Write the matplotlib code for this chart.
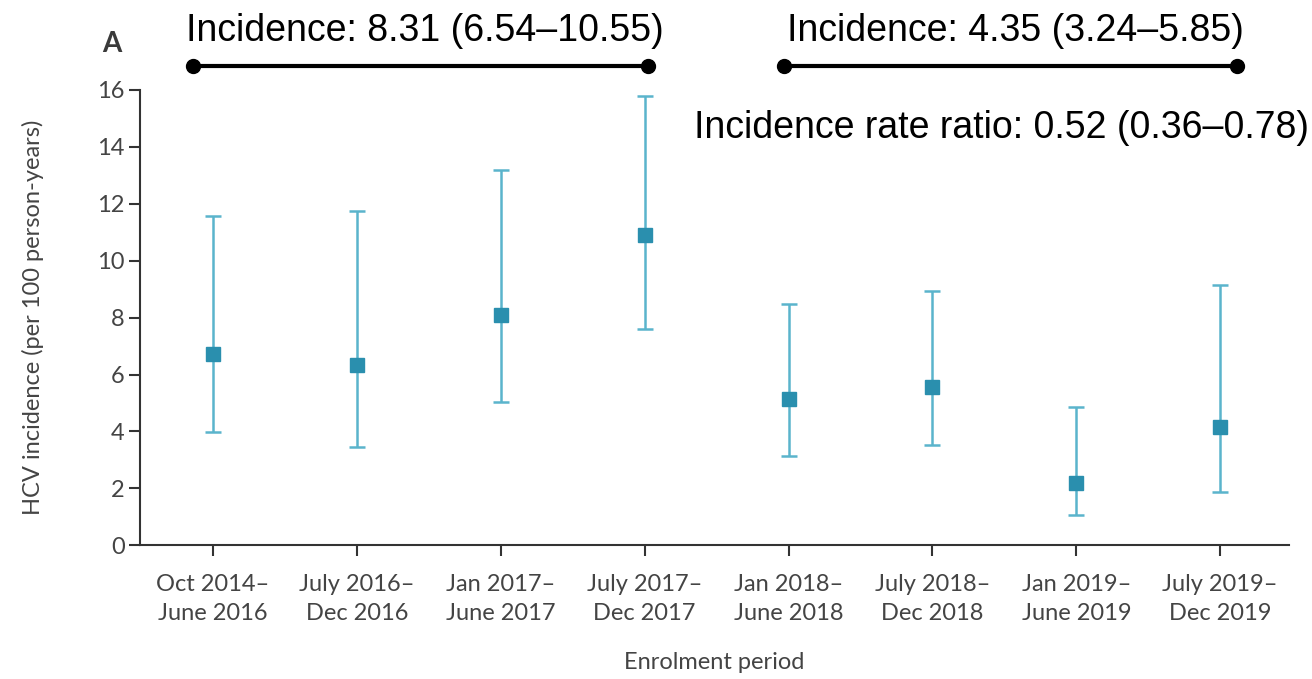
import numpy as np
import matplotlib.pyplot as plt

# Data
periods = ['Oct 2014–\nJune 2016', 'July 2016–\nDec 2016', 'Jan 2017–\nJune 2017',
           'July 2017–\nDec 2017', 'Jan 2018–\nJune 2018', 'July 2018–\nDec 2018',
           'Jan 2019–\nJune 2019', 'July 2019–\nDec 2019']
incidence = [6.72, 6.34, 8.10, 10.92, 5.13, 5.57, 2.19, 4.14]
lower_ci = [3.97, 3.46, 5.05, 7.60, 3.13, 3.52, 1.08, 1.88]
upper_ci = [11.56, 11.76, 13.20, 15.79, 8.47, 8.95, 4.87, 9.13]

bracket_text = ['Incidence: 8.31 (6.54–10.55)', 'Incidence: 4.35 (3.24–5.85)']
ratio_text = 'Incidence rate ratio: 0.52 (0.36–0.78)'

tick_font = 'Lato'
grey = '#444444'

x = np.arange(len(periods))
inc = np.array(incidence)
err = np.vstack([inc - np.array(lower_ci), np.array(upper_ci) - inc])

fig = plt.figure(figsize=(13.12, 6.79), dpi=100)
ax = fig.add_axes([0.1067, 0.197, 0.876, 0.6705])

ax.errorbar(x, inc, yerr=err, fmt='none', ecolor='#5ab4cc', elinewidth=1.8,
            capsize=6, capthick=1.8, zorder=2)
ax.plot(x, inc, 's', color='#2a8fae', markersize=10, zorder=3)

ax.set_xlim(-0.507, 7.48)
ax.set_ylim(0, 16)
ax.set_yticks(range(0, 17, 2))
ax.set_xticks(x)
ax.set_xticklabels(periods, fontsize=17, family=tick_font, color=grey, linespacing=1.45)
for lab in ax.get_yticklabels():
    lab.set_fontsize(17)
    lab.set_family(tick_font)
    lab.set_color(grey)

for s in ['top', 'right']:
    ax.spines[s].set_visible(False)
for s in ['left', 'bottom']:
    ax.spines[s].set_color('#333333')
    ax.spines[s].set_linewidth(1.5)
ax.tick_params(axis='both', direction='out', length=8, width=1.5, color='#333333')
ax.tick_params(axis='x', pad=13)
ax.tick_params(axis='y', pad=3)

ax.set_ylabel('HCV incidence (per 100 person-years)', fontsize=17, family=tick_font,
              color=grey)
ax.yaxis.set_label_coords(-0.0836, 0.5)
ax.set_xlabel('Enrolment period', fontsize=17, family=tick_font, color=grey)
ax.xaxis.set_label_coords(0.5, -0.234)

# Panel letter
fig.text(0.085, 0.935, 'A', fontsize=20, fontweight='bold', family=tick_font, color='#3a3a3a',
         ha='center', va='center')

# Period brackets and summary text
br_y = 16.83
for (x0, x1), txt in zip([(-0.14, 3.02), (3.97, 7.12)], bracket_text):
    ax.plot([x0, x1], [br_y, br_y], color='black', lw=3, marker='o', markersize=10,
            clip_on=False, solid_capstyle='butt')
    ax.text((x0 + x1) / 2 + 0.03, 18.08, txt, ha='center', va='center', fontsize=27,
            family='Liberation Sans', color='black', clip_on=False)

fig.text(0.7633, 0.812, ratio_text, ha='center', va='center', fontsize=27,
         family='Liberation Sans', color='black')

fig.savefig('out.png', dpi=100)
